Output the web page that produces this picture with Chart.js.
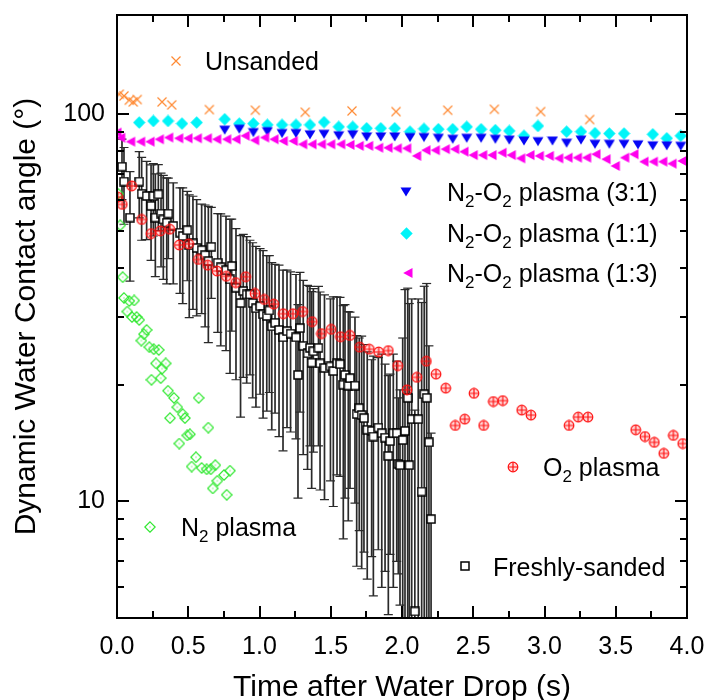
<!DOCTYPE html>
<html><head><meta charset="utf-8">
<script src="https://cdn.jsdelivr.net/npm/chart.js@4/dist/chart.umd.min.js"></script>
<style>html,body{margin:0;padding:0;background:#fff;}</style>
</head><body>
<canvas id="c" width="706" height="700"></canvas>
<script>
const FONT = '"Liberation Sans", Arial, Helvetica, sans-serif';

// ---------------- data ----------------
const xTickValues = [0, 0.5, 1, 1.5, 2, 2.5, 3, 3.5, 4];
const xTickLabels = ['0.0','0.5','1.0','1.5','2.0','2.5','3.0','3.5','4.0'];
const yTickValues = [10, 100];
const yTickLabels = ['10', '100'];

const unsandedT = [0.016,0.049,0.086,0.114,0.142,0.316,0.384,0.648,0.971,1.321,1.649,1.958,2.321,2.648,2.973,3.317];
const unsandedAngle = [112.4,111.3,108.5,107.4,108.9,107.4,105.5,102.6,102.2,101.0,101.8,101.4,102.2,102.8,101.4,96.7];

const p31T = [0.756,0.858,0.957,1.055,1.158,1.256,1.354,1.453,1.556,1.654,1.752,1.851,1.949,2.056,2.154,2.255,2.356,2.454,2.555,2.655,2.753,2.856,2.954,3.056,3.155,3.256,3.354,3.455,3.558,3.656,3.760,3.858,3.956];
const p31Angle = [90.8,91.3,89.5,90.0,89.0,89.0,88.3,88.6,87.8,88.3,87.2,87.2,87.2,86.9,86.9,86.5,86.0,86.5,86.5,86.0,85.6,85.1,84.8,85.1,84.0,85.6,83.5,83.5,83.5,83.2,82.7,82.7,82.5];

const p11T = [0.156,0.255,0.358,0.456,0.559,0.756,0.858,0.957,1.055,1.158,1.256,1.354,1.453,1.556,1.654,1.752,1.851,1.949,2.056,2.154,2.255,2.356,2.454,2.555,2.655,2.753,2.856,2.954,3.155,3.256,3.354,3.455,3.558,3.760,3.858,3.956];
const p11Angle = [95.0,95.9,95.9,94.4,95.0,96.9,94.4,94.4,93.7,93.7,93.7,93.7,95.2,92.6,92.6,91.8,91.8,91.8,90.0,91.5,91.3,91.3,92.6,91.3,90.8,90.4,87.8,93.1,90.0,90.0,89.2,89.0,89.0,88.6,86.5,87.8];

const p13T = [0.000,0.026,0.096,0.166,0.232,0.297,0.363,0.433,0.498,0.564,0.634,0.700,0.770,0.835,0.900,0.966,1.036,1.102,1.167,1.237,1.303,1.368,1.434,1.500,1.570,1.635,1.700,1.766,1.836,1.902,1.967,2.033,2.103,2.168,2.234,2.304,2.370,2.435,2.500,2.566,2.632,2.702,2.767,2.833,2.898,2.964,3.034,3.100,3.165,3.231,3.296,3.361,3.432,3.497,3.563,3.628,3.698,3.764,3.830,3.895,3.965];
const p13Angle = [89.5,86.8,84.8,84.8,84.8,86.0,86.9,86.5,86.5,86.5,86.5,86.0,86.0,86.0,87.8,85.5,86.9,86.0,85.1,85.1,83.5,83.5,83.5,83.5,83.5,83.2,82.7,82.7,81.8,81.8,81.5,81.5,77.9,80.6,80.6,81.1,81.1,79.9,78.3,78.3,78.3,79.4,78.3,76.8,78.3,77.9,77.9,76.8,77.1,77.1,77.1,78.7,76.4,73.4,77.1,78.7,75.3,75.3,75.3,74.4,75.6];

const o2T = [0.005,0.037,0.103,0.173,0.239,0.304,0.370,0.437,0.503,0.571,0.636,0.702,0.767,0.833,0.903,0.968,1.034,1.100,1.167,1.235,1.303,1.370,1.435,1.503,1.568,1.634,1.703,1.771,1.836,1.904,1.970,2.035,2.104,2.171,2.239,2.307,2.374,2.440,2.505,2.573,2.641,2.707,2.840,2.905,3.172,3.237,3.305,3.640,3.705,3.771,3.837,3.904,3.970];
const o2Angle = [61.0,58.4,65.2,53.4,49.1,49.9,50.4,45.9,46.2,42.1,40.7,39.3,38.1,36.7,38.0,34.4,33.2,32.3,30.5,30.5,30.9,29.1,27.1,27.8,26.6,26.8,25.0,24.7,24.3,24.5,22.4,19.4,20.9,23.0,21.3,19.6,15.7,16.3,19.0,15.7,18.1,18.2,17.2,16.7,15.7,16.5,16.5,15.3,14.7,14.2,13.3,14.8,14.1];

const n2T = [0.009,0.023,0.040,0.049,0.072,0.086,0.105,0.121,0.138,0.156,0.171,0.189,0.208,0.227,0.242,0.258,0.274,0.293,0.307,0.316,0.342,0.358,0.372,0.400,0.423,0.437,0.461,0.477,0.493,0.512,0.524,0.554,0.573,0.594,0.629,0.641,0.658,0.672,0.690,0.704,0.751,0.770,0.793];
const n2Angle = [62.2,51.6,37.9,33.5,30.9,32.9,29.9,33.0,29.9,29.4,26.0,27.0,27.7,25.0,20.6,24.7,22.7,24.6,20.8,22.0,22.7,19.3,16.4,18.5,17.5,14.1,16.8,16.4,14.8,14.9,12.3,13.0,18.5,12.2,12.1,15.5,12.1,10.8,12.4,11.3,11.7,10.4,12.0];

const sandedT = [0.035,0.049,0.091,0.156,0.173,0.208,0.239,0.255,0.269,0.290,0.309,0.325,0.349,0.360,0.395,0.442,0.461,0.493,0.507,0.533,0.559,0.594,0.618,0.641,0.662,0.707,0.728,0.765,0.793,0.805,0.835,0.867,0.886,0.910,0.933,0.952,0.975,1.004,1.025,1.051,1.069,1.086,1.109,1.137,1.165,1.193,1.218,1.256,1.270,1.284,1.307,1.337,1.354,1.366,1.378,1.414,1.425,1.456,1.498,1.518,1.544,1.565,1.588,1.600,1.623,1.635,1.670,1.682,1.700,1.717,1.733,1.756,1.787,1.799,1.834,1.858,1.881,1.904,1.916,1.939,1.963,1.974,1.986,2.005,2.021,2.040,2.051,2.068,2.090,2.114,2.138,2.156,2.173,2.189,2.204];
const sandedAngle = [73.1,66.9,54.0,66.9,62.2,61.4,57.9,61.4,54.0,62.0,55.3,53.4,52.4,55.3,51.4,49.4,48.4,50.1,45.8,46.3,45.1,44.5,43.2,41.7,45.4,41.3,40.2,39.5,37.4,40.5,35.6,32.5,34.9,34.2,34.2,32.5,31.5,31.9,30.4,30.1,31.1,28.3,28.9,27.7,26.5,27.5,27.1,26.5,21.2,28.0,25.2,24.1,24.9,22.8,24.4,24.9,22.7,22.1,22.3,21.7,22.7,22.6,20.0,21.2,19.9,20.8,19.9,16.8,17.4,16.7,16.4,15.3,15.2,14.7,15.5,15.0,14.6,13.1,14.3,15.0,15.0,12.5,12.4,14.4,15.2,18.5,12.4,16.3,5.2,16.3,10.6,18.9,18.5,14.2,9.0];
const sandedErr = [13,15,17,13,15,14,16,13,16,12,15,16,16,13,15,15,16,13,16,15,15,14,15,16,12,14,15,15,16,13,15,16,14,14,13,14,14,13,14,13,12,13,12,13,13,12,12,12,11,11,12,12,11,12,11,11,12,12,11,12,11,11,12,11,11,10,10,10,9,10,9,9,8,9,8,9,8,8,7,9,8,6,7,12,20,17,20,17,12,17,22,17,18,11,6];

// ---------------- markers ----------------
function mk(w, h, fn) { const c = document.createElement('canvas'); c.width = w; c.height = h; fn(c.getContext('2d')); return c; }
const mOrange = mk(12, 12, g => { g.strokeStyle = '#FF8A33'; g.lineWidth = 1.2; g.beginPath(); g.moveTo(1.5,1.5); g.lineTo(10.5,10.5); g.moveTo(10.5,1.5); g.lineTo(1.5,10.5); g.stroke(); });
const mBlue = mk(12, 12, g => { g.fillStyle = '#0505F5'; g.beginPath(); g.moveTo(0.5,1.5); g.lineTo(11.5,1.5); g.lineTo(6,10.5); g.closePath(); g.fill(); });
const mCyan = mk(13, 13, g => { g.fillStyle = '#00F4F8'; g.beginPath(); g.moveTo(6.5,0.3); g.lineTo(12.7,6.5); g.lineTo(6.5,12.7); g.lineTo(0.3,6.5); g.closePath(); g.fill(); });
const mMag = mk(12, 12, g => { g.fillStyle = '#FF00EE'; g.beginPath(); g.moveTo(1.2,6); g.lineTo(10.5,1); g.lineTo(10.5,11); g.closePath(); g.fill(); });
const mRed = mk(12, 12, g => { g.strokeStyle = '#FF1010'; g.fillStyle = 'rgba(255,40,40,0.18)'; g.lineWidth = 1.2; g.beginPath(); g.arc(6,6,4.8,0,Math.PI*2); g.fill(); g.stroke(); g.beginPath(); g.moveTo(6,1.2); g.lineTo(6,10.8); g.moveTo(1.2,6); g.lineTo(10.8,6); g.stroke(); });
const mGreen = mk(12, 12, g => { g.strokeStyle = '#30E830'; g.lineWidth = 1.2; g.beginPath(); g.moveTo(6,0.8); g.lineTo(11.2,6); g.lineTo(6,11.2); g.lineTo(0.8,6); g.closePath(); g.stroke(); g.fillStyle = '#30E830'; g.fillRect(5.5,5.5,1,1); });
const mBlack = mk(10, 10, g => { g.fillStyle = '#fff'; g.strokeStyle = '#000'; g.lineWidth = 1.5; g.fillRect(1,1,8,8); g.strokeRect(1,1,8,8); });

const pts = (xs, ys) => xs.map((x, i) => ({ x, y: ys[i] }));

// ---------------- plugins ----------------
const errorBars = {
  id: 'errorBars',
  beforeDatasetsDraw(chart) {
    const ctx = chart.ctx, ca = chart.chartArea, xs = chart.scales.x, ys = chart.scales.y;
    ctx.save();
    ctx.beginPath(); ctx.rect(ca.left, ca.top, ca.right - ca.left, ca.bottom - ca.top); ctx.clip();
    ctx.strokeStyle = '#2a2a2a'; ctx.lineWidth = 1.7;
    for (let i = 0; i < sandedT.length; i++) {
      const px = xs.getPixelForValue(sandedT[i]);
      const hi = sandedAngle[i] + sandedErr[i], lo = sandedAngle[i] - sandedErr[i];
      const yHi = ys.getPixelForValue(hi);
      const inLo = lo > ys.min;
      const yLo = inLo ? ys.getPixelForValue(lo) : ca.bottom + 2;
      ctx.beginPath();
      ctx.moveTo(px, yHi); ctx.lineTo(px, yLo);
      ctx.stroke();
      ctx.save(); ctx.lineWidth = 1.2; ctx.beginPath();
      ctx.moveTo(px - 4.5, yHi); ctx.lineTo(px + 4.5, yHi);
      if (inLo) { ctx.moveTo(px - 4.5, yLo); ctx.lineTo(px + 4.5, yLo); }
      ctx.stroke(); ctx.restore();
    }
    ctx.restore();
  }
};

const frameTicks = {
  id: 'frameTicks',
  afterDatasetsDraw(chart) {
    const ctx = chart.ctx, ca = chart.chartArea, xs = chart.scales.x, ys = chart.scales.y;
    ctx.save();
    ctx.strokeStyle = '#000'; ctx.lineWidth = 2;
    ctx.strokeRect(ca.left, ca.top, ca.right - ca.left, ca.bottom - ca.top);
    ctx.beginPath();
    for (let k = 0; k <= 16; k++) {
      const v = k * 0.25;
      const px = Math.round(xs.getPixelForValue(v));
      const L = (k % 2 === 0) ? 12 : 7;
      ctx.moveTo(px, ca.bottom); ctx.lineTo(px, ca.bottom - L);
      ctx.moveTo(px, ca.top); ctx.lineTo(px, ca.top + L);
    }
    const yv = [5,6,7,8,9,10,20,30,40,50,60,70,80,90,100];
    for (const v of yv) {
      const py = Math.round(ys.getPixelForValue(v));
      const L = (v === 10 || v === 100) ? 12 : 7;
      ctx.moveTo(ca.left, py); ctx.lineTo(ca.left + L, py);
      ctx.moveTo(ca.right, py); ctx.lineTo(ca.right - L, py);
    }
    ctx.stroke();
    ctx.restore();
  }
};

function rich(ctx, x, y, parts, size) {
  let cx = x;
  for (const p of parts) {
    const s = p.sub ? Math.round(size * 0.66) : size;
    ctx.font = s + 'px ' + FONT;
    ctx.fillText(p.t, cx, y + (p.sub ? size * 0.24 : 0));
    cx += ctx.measureText(p.t).width;
  }
}

const legendItems = [
  { m: mOrange, mx: 176, my: 61, tx: 205, ty: 70, parts: [{t:'Unsanded'}] },
  { m: mBlue, mx: 406, my: 192, tx: 447, ty: 201, parts: [{t:'N'},{t:'2',sub:true},{t:'-O'},{t:'2',sub:true},{t:' plasma (3:1)'}] },
  { m: mCyan, mx: 406, my: 233, tx: 447, ty: 242, parts: [{t:'N'},{t:'2',sub:true},{t:'-O'},{t:'2',sub:true},{t:' plasma (1:1)'}] },
  { m: mMag, mx: 408, my: 273, tx: 447, ty: 282, parts: [{t:'N'},{t:'2',sub:true},{t:'-O'},{t:'2',sub:true},{t:' plasma (1:3)'}] },
  { m: mRed, mx: 513, my: 467, tx: 543, ty: 476, parts: [{t:'O'},{t:'2',sub:true},{t:' plasma'}] },
  { m: mGreen, mx: 150, my: 527, tx: 181, ty: 536, parts: [{t:'N'},{t:'2',sub:true},{t:' plasma'}] },
  { m: mBlack, mx: 465, my: 566, tx: 493, ty: 576, parts: [{t:'Freshly-sanded'}] }
];

const annotations = {
  id: 'annotations',
  afterDraw(chart) {
    const ctx = chart.ctx;
    ctx.save();
    ctx.fillStyle = '#000'; ctx.textBaseline = 'alphabetic'; ctx.textAlign = 'left';
    for (const it of legendItems) {
      ctx.drawImage(it.m, Math.round(it.mx - it.m.width / 2), Math.round(it.my - it.m.height / 2));
      rich(ctx, it.tx, it.ty, it.parts, 25);
    }
    ctx.restore();
  }
};

function zeroPad(s) { s.paddingTop = 0; s.paddingBottom = 0; s.paddingLeft = 0; s.paddingRight = 0; }

// ---------------- chart ----------------
const base = { showLine: false, pointRadius: 5, pointHoverRadius: 5 };
new Chart(document.getElementById('c'), {
  type: 'scatter',
  data: {
    datasets: [
      Object.assign({ label: 'O2 plasma', data: pts(o2T, o2Angle), pointStyle: mRed }, base),
      Object.assign({ label: 'N2 plasma', data: pts(n2T, n2Angle), pointStyle: mGreen }, base),
      Object.assign({ label: 'Freshly-sanded', data: pts(sandedT, sandedAngle), pointStyle: mBlack }, base),
      Object.assign({ label: 'N2-O2 plasma (1:3)', data: pts(p13T, p13Angle), pointStyle: mMag }, base),
      Object.assign({ label: 'N2-O2 plasma (3:1)', data: pts(p31T, p31Angle), pointStyle: mBlue }, base),
      Object.assign({ label: 'N2-O2 plasma (1:1)', data: pts(p11T, p11Angle), pointStyle: mCyan }, base),
      Object.assign({ label: 'Unsanded', data: pts(unsandedT, unsandedAngle), pointStyle: mOrange }, base)
    ]
  },
  options: {
    responsive: false,
    animation: false,
    events: [],
    layout: { padding: { top: 15, right: 19, left: 0, bottom: 0 } },
    plugins: { legend: { display: false }, tooltip: { enabled: false } },
    scales: {
      x: {
        type: 'linear', min: 0, max: 4,
        afterFit(s) { s.height = 82; zeroPad(s); },
        afterBuildTicks(s) { s.ticks = xTickValues.map(v => ({ value: v })); },
        grid: { display: false, drawTicks: false }, border: { display: false },
        ticks: { padding: 14, color: '#000', font: { family: FONT, size: 25 }, maxRotation: 0, autoSkip: false,
          callback: (v) => { const i = xTickValues.indexOf(v); return i >= 0 ? xTickLabels[i] : ''; } },
        title: { display: true, text: 'Time after Water Drop (s)', color: '#000', font: { family: FONT, size: 30, lineHeight: 0.8 }, padding: { top: 0, bottom: 0 } }
      },
      y: {
        type: 'logarithmic', min: 5, max: 180,
        afterFit(s) { s.width = 117; zeroPad(s); },
        afterBuildTicks(s) { s.ticks = yTickValues.map(v => ({ value: v })); },
        grid: { display: false, drawTicks: false }, border: { display: false },
        ticks: { padding: 12, color: '#000', font: { family: FONT, size: 25 },
          callback: (v) => { const i = yTickValues.indexOf(v); return i >= 0 ? yTickLabels[i] : ''; } },
        title: { display: true, text: 'Dynamic Water Contact angle (°)', color: '#000', font: { family: FONT, size: 30, lineHeight: 1 }, padding: { top: 12, bottom: 0 } }
      }
    }
  },
  plugins: [errorBars, frameTicks, annotations]
});
</script>
</body></html>
